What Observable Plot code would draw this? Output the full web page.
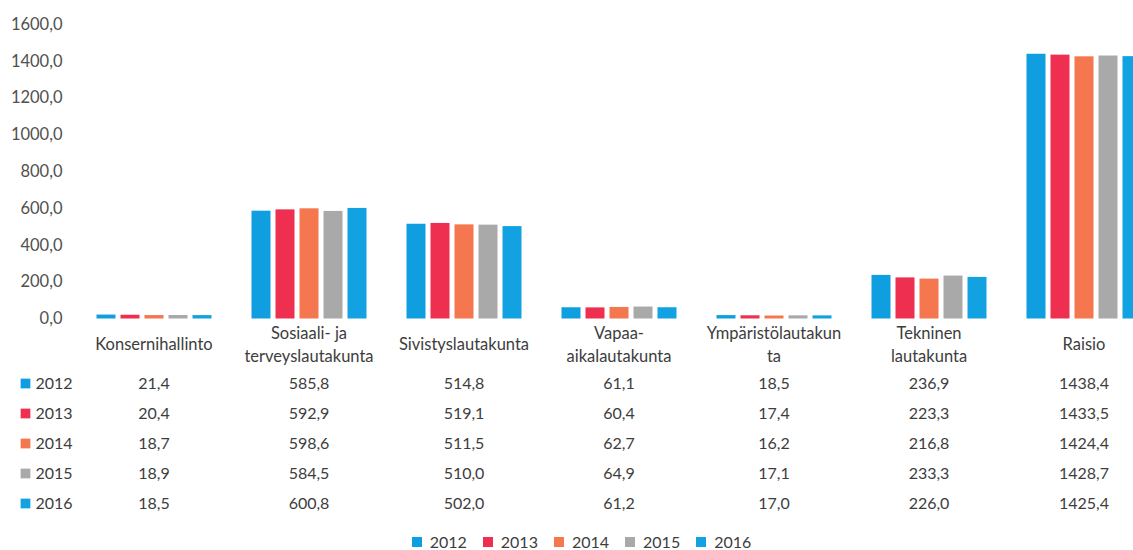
<!DOCTYPE html>
<html><head><meta charset="utf-8">
<script src="https://cdn.jsdelivr.net/npm/d3@7"></script>
<script src="https://cdn.jsdelivr.net/npm/@observablehq/plot@0.6"></script>
<style>
html,body{margin:0;background:#fff;overflow:hidden;}
#legend{display:flex;justify-content:center;padding-left:46px;height:18px;align-items:center;}
#legend > div{min-height:0 !important;height:18px;margin:0 !important;}
</style></head><body><div id="chart"></div><div id="legend"></div>
<script>
const categories = ["Konsernihallinto","Sosiaali- ja terveyslautakunta","Sivistyslautakunta","Vapaa-aikalautakunta","Ympäristölautakunta","Tekninen lautakunta","Raisio"];
const categoryLabels = ["Konsernihallinto","Sosiaali- ja\nterveyslautakunta","Sivistyslautakunta","Vapaa-\naikalautakunta","Ympäristölautakun\nta","Tekninen\nlautakunta","Raisio"];
const years = ["2012","2013","2014","2015","2016"];
const values2012 = [21.4,585.8,514.8,61.1,18.5,236.9,1438.4];
const values2013 = [20.4,592.9,519.1,60.4,17.4,223.3,1433.5];
const values2014 = [18.7,598.6,511.5,62.7,16.2,216.8,1424.4];
const values2015 = [18.9,584.5,510.0,64.9,17.1,233.3,1428.7];
const values2016 = [18.5,600.8,502.0,61.2,17.0,226.0,1425.4];
const yTicks = [0,200,400,600,800,1000,1200,1400,1600];
const colors = ["#0f9fe0","#ee2f50","#f5774f","#a9a9a9","#12a2e2"];

const series = [values2012,values2013,values2014,values2015,values2016];
const data = [];
series.forEach((vals, i) => vals.forEach((v, j) => data.push({category: categories[j], year: years[i], value: v})));
const catData = categories.map((c, j) => ({category: c, label: categoryLabels[j]}));
const fmt = d => d.toFixed(1).replace(".", ",");
const FONT = "Lato, 'Open Sans', sans-serif";
const textColor = "#3d3d3d";

const marks = [
  Plot.axisY({ticks: yTicks, tickSize: 0, tickPadding: 14, tickFormat: fmt, label: null, fontSize: 16.5, fill: "#505050"}),
  Plot.barY(data, {fx: "category", x: "year", y: "value", fill: "year"}),
  Plot.text(catData, {fx: "category", text: "label", frameAnchor: "bottom", dy: 24, lineAnchor: "middle", lineHeight: 1.4, fontSize: 16.5, fill: textColor})
];
years.forEach((yr, i) => {
  const rows = data.filter(d => d.year === yr);
  const dy = 64.5 + 30 * i;
  marks.push(Plot.text(rows, {fx: "category", text: d => fmt(d.value), frameAnchor: "bottom", lineAnchor: "middle", dy, fontSize: 16, fill: textColor}));
  const head = [{category: categories[0], year: yr}];
  marks.push(Plot.dot(head, {fx: "category", frameAnchor: "bottom-left", dx: -51, dy, symbol: "square", r: 5.5, fill: "year", stroke: null}));
  marks.push(Plot.text(head, {fx: "category", text: "year", frameAnchor: "bottom-left", lineAnchor: "middle", textAnchor: "start", dx: -41, dy, fontSize: 16, fill: textColor}));
});

const chart = Plot.plot({
  width: 1133,
  height: 532,
  marginTop: 24,
  marginBottom: 213.5,
  marginLeft: 75.5,
  marginRight: 0,
  style: {fontFamily: FONT, fontSize: "16px", color: "#505050", background: "#fff"},
  fx: {domain: categories, range: [75.5, 1160.5], padding: 0, axis: null, label: null},
  x: {domain: years, paddingInner: 0.22, paddingOuter: 0.8, axis: null},
  y: {domain: [0, 1600]},
  color: {domain: years, range: colors},
  marks
});
document.getElementById("chart").appendChild(chart);

const legend = Plot.legend({color: {domain: years, range: colors}, legend: "swatches", swatchSize: 10, style: {fontFamily: FONT, fontSize: "16px", color: textColor}});
document.getElementById("legend").appendChild(legend);
</script></body></html>
